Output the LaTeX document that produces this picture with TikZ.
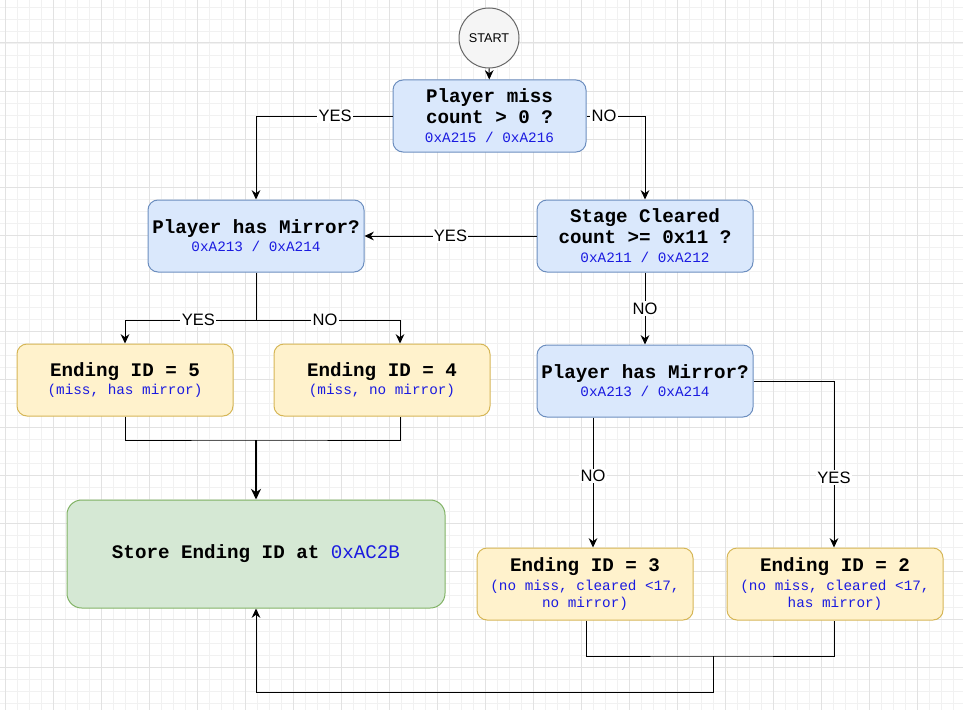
\documentclass[tikz,border=0pt]{standalone}
\usepackage{fontspec}
\setmainfont{Liberation Sans}
\setsansfont{Liberation Sans}
\setmonofont{Liberation Mono}
\usepackage{tikz}
\usetikzlibrary{positioning,calc,arrows.meta}
\definecolor{qfill}{HTML}{DAE8FC}
\definecolor{qdraw}{HTML}{6C8EBF}
\definecolor{efill}{HTML}{FFF2CC}
\definecolor{edraw}{HTML}{D6B656}
\definecolor{sfill}{HTML}{D5E8D4}
\definecolor{sdraw}{HTML}{82B366}
\definecolor{addr}{HTML}{1A1AE0}
\definecolor{gridmaj}{HTML}{E2E2E2}
\definecolor{gridmin}{HTML}{F1F1F1}
\newcommand{\adr}[1]{{\fontsize{10.75}{12.75}\selectfont\mdseries\color{addr}#1}}
\tikzset{dbox/.style={rounded corners=7.5pt, line width=0.75pt, inner sep=0pt, align=center, minimum width=162pt, minimum height=54pt, font=\fontsize{14.4}{15.5}\selectfont\ttfamily\bfseries}}
\tikzset{dq/.style={dbox, draw=qdraw, fill=qfill}}
\tikzset{dend/.style={dbox, draw=edraw, fill=efill}}
\tikzset{dstore/.style={dbox, draw=sdraw, fill=sfill, rounded corners=11pt, minimum width=283.5pt, minimum height=81pt}}
\tikzset{arr/.style={draw, line width=0.75pt, -{Stealth[length=7pt,width=6.5pt]}}}
\tikzset{arr2/.style={draw, line width=1.5pt, -{Stealth[length=8pt,width=7.5pt]}}}
\tikzset{lab/.style={fill=white, inner sep=1pt, font=\fontsize{12.4}{14}\selectfont\sffamily}}

\begin{document}
\begin{tikzpicture}[x=0.75pt, y=-0.75pt]
	\useasboundingbox (0,0) rectangle (963,710);
	% grid
	\foreach \gx in {5,17,...,965} \draw[gridmin, line width=0.6pt] (\gx,0) -- (\gx,710);
	\foreach \gy in {7,19,...,710} \draw[gridmin, line width=0.6pt] (0,\gy) -- (963,\gy);
	\foreach \gx in {5,53,...,965} \draw[gridmaj, line width=0.75pt] (\gx,0) -- (\gx,710);
	\foreach \gy in {43,91,...,710} \draw[gridmaj, line width=0.75pt] (0,\gy) -- (963,\gy);

	\node[circle, draw=black!60, fill=black!4, line width=0.75pt, minimum size=45pt, inner sep=0pt, font=\fontsize{9.5}{11}\selectfont\sffamily] (S) at (489,38) {START};
	\node[dq, minimum width=144.75pt] (M) at (489.5,116) {Player miss\\count > 0 ?\\[-1pt]\adr{0xA215 / 0xA216}};
	\node[dq] (H1) at (256,236) {Player has Mirror?\\[-2pt]\adr{0xA213 / 0xA214}};
	\node[dq] (C) at (645,236) {Stage Cleared\\count >= 0x11 ?\\[-1pt]\adr{0xA211 / 0xA212}};
	\node[dq, below=54pt of C] (H2) {Player has Mirror?\\[-2pt]\adr{0xA213 / 0xA214}};
	\node[dend] (E5) at (125,380) {Ending ID = 5\\[-2pt]\adr{(miss, has mirror)}};
	\node[dend, right=30pt of E5] (E4) {Ending ID = 4\\[-2pt]\adr{(miss, no mirror)}};
	\node[dend] (E3) at (585,584) {Ending ID = 3\\[-1pt]\adr{(no miss, cleared <17,}\\[-3pt]\adr{no mirror)}};
	\node[dend, right=24.75pt of E3] (E2) {Ending ID = 2\\[-1pt]\adr{(no miss, cleared <17,}\\[-3pt]\adr{has mirror)}};
	\node[dstore] (W) at (256,554) {Store Ending ID at \adr{\fontsize{14.4}{15.5}\selectfont 0xAC2B}};

	\coordinate (J1) at (256,320);
	\coordinate (J2) at (256,440);
	\coordinate (J3) at (713,656);
	\coordinate (J4) at (713,692);

	\draw[arr] (S) -- (M);
	\draw[arr] (M.west) -| node[lab, pos=0.21]{YES} (H1.north);
	\draw[arr] (M.east) -| node[lab, pos=0.15]{NO} (C.north);
	\draw[arr] (C.west) -- node[lab]{YES} (H1.east);
	\draw[arr] (C.south) -- node[lab]{NO} (H2.north);
	\draw[line width=0.75pt] (H1.south) -- (J1);
	\draw[arr] (J1) -| node[lab, pos=0.22]{YES} (E5.north);
	\draw[arr] (J1) -| node[lab, pos=0.24]{NO} ($(E4.north)+(18,0)$);
	\draw[line width=0.75pt] (E5.south) |- (J2) -| ($(E4.south)+(18,0)$);
	\draw[arr2] (J2) -- (W.north);
	\draw[arr] ($(H2.south)+(-52,0)$) -- node[lab, pos=0.45]{NO} ($(E3.north)+(8,0)$);
	\draw[arr] (H2.east) -| node[lab, pos=0.79]{YES} ($(E2.north)+(-1,0)$);
	\draw[line width=0.75pt] ($(E3.south)+(1,0)$) |- (J3) -| ($(E2.south)+(-1,0)$);
	\draw[arr] (J3) -- (J4) -| (W.south);
\end{tikzpicture}
\end{document}
